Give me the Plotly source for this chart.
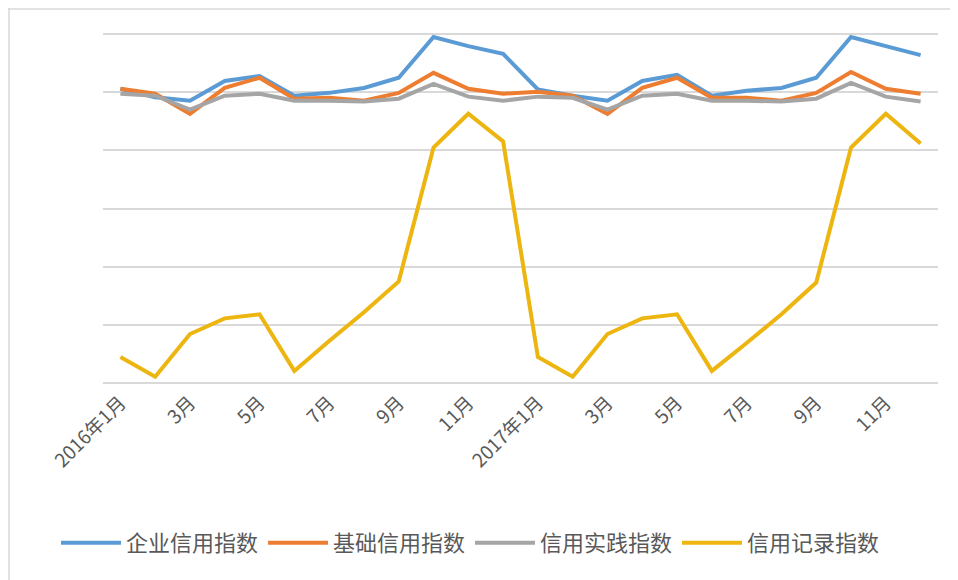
import plotly.graph_objects as go

months = list(range(24))
tick_idx = [0, 2, 4, 6, 8, 10, 12, 14, 16, 18, 20, 22]
tick_labels = ["2016年1月", "3月", "5月", "7月", "9月", "11月",
               "2017年1月", "3月", "5月", "7月", "9月", "11月"]

enterprise = [101.2, 98.3, 97.1, 103.9, 105.6, 98.8, 99.8, 101.5, 105.0, 119.0, 115.9, 113.2,
              101.0, 98.8, 97.1, 103.9, 106.0, 98.8, 100.5, 101.5, 105.0, 119.0, 115.9, 112.8]
basic = [101.2, 99.5, 92.6, 101.5, 105.0, 97.8, 98.1, 97.1, 99.8, 106.7, 101.2, 99.5,
         100.2, 98.8, 92.6, 101.5, 105.0, 98.1, 98.1, 97.1, 99.8, 107.0, 101.2, 99.5]
practice = [99.5, 98.8, 94.0, 98.8, 99.5, 97.1, 97.1, 96.8, 97.8, 102.9, 98.5, 97.1,
            98.5, 98.1, 94.0, 98.8, 99.5, 97.1, 97.1, 96.8, 97.8, 103.2, 98.5, 96.8]
record = [8.9, 2.1, 16.8, 22.2, 23.6, 4.1, 14.4, 24.3, 34.9, 81.0, 92.6, 83.1,
          8.9, 2.1, 16.8, 22.2, 23.6, 4.1, 13.7, 23.6, 34.5, 81.0, 92.6, 82.4]

series = [
    ("企业信用指数", enterprise, "#5B9BD5"),
    ("基础信用指数", basic, "#ED7D31"),
    ("信用实践指数", practice, "#A5A5A5"),
    ("信用记录指数", record, "#EDB50F"),
]

fig = go.Figure()
for name, vals, color in series:
    fig.add_trace(go.Scatter(x=months, y=vals, mode="lines", name=name,
                             line=dict(color=color, width=4)))

# page body adds an 8px offset; compensate
OFF = 8
W, H = 958, 580
pw, ph = 835, 351
L, T = 103 - OFF, 33 - OFF
R = W - L - pw
B = H - T - ph

fig.update_layout(
    width=W, height=H,
    margin=dict(l=L, r=R, t=T, b=B, autoexpand=False),
    paper_bgcolor="white", plot_bgcolor="white",
    font=dict(family="Noto Sans CJK SC", color="#595959"),
    showlegend=True,
    legend=dict(orientation="h", xref="container", yref="container",
                x=(56 - OFF) / W, xanchor="left", y=1 - (543 - OFF) / H, yanchor="middle",
                font=dict(size=22, color="#595959"), itemwidth=60,
                entrywidth=132, entrywidthmode="pixels",
                traceorder="normal"),
    xaxis=dict(range=[-0.5, 23.5], tickmode="array", tickvals=tick_idx,
               ticktext=tick_labels, tickangle=-45, showgrid=False,
               zeroline=False, showline=False, ticks="", automargin=False,
               ticklabelstandoff=3,
               tickfont=dict(size=19, color="#595959")),
    yaxis=dict(range=[-0.4, 120.4], tickmode="array",
               tickvals=[0, 20, 40, 60, 80, 100, 120], showgrid=True,
               gridcolor="#D9D9D9", gridwidth=1.5, zeroline=False,
               showticklabels=False, ticks="", showline=False, automargin=False),
    shapes=[
        dict(type="line", xref="paper", yref="paper",
             x0=-L / pw, x1=(W - L) / pw, y0=(H - B - 1) / ph, y1=(H - B - 1) / ph,
             line=dict(color="#D9D9D9", width=1.5)),
        dict(type="line", xref="paper", yref="paper",
             x0=(1 - L) / pw, x1=(1 - L) / pw, y0=(H - B) / ph, y1=-B / ph,
             line=dict(color="#D9D9D9", width=1.5)),
    ],
)

fig.write_html("out.html")
